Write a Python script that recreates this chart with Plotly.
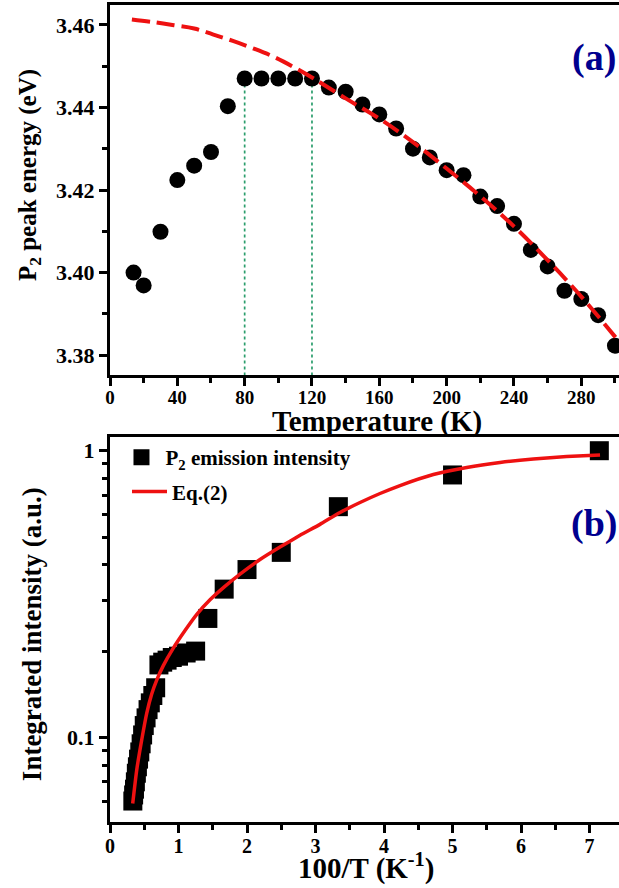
import plotly.graph_objects as go

# ---------------- data: panel (a) ----------------
temp_a = [14, 20, 30, 40, 50, 60, 70, 80, 90, 100, 110, 120, 130, 140, 150,
          160, 170, 180, 190, 200, 210, 220, 230, 240, 250, 260, 270, 280, 290, 300]
energy_a = [3.4000, 3.3969, 3.4099, 3.4224, 3.4259, 3.4292, 3.4403, 3.4470, 3.4470,
            3.4470, 3.4470, 3.4470, 3.4448, 3.4438, 3.4407, 3.4383, 3.4349, 3.4300,
            3.4279, 3.4248, 3.4236, 3.4184, 3.4161, 3.4118, 3.4055, 3.4015, 3.3956,
            3.3936, 3.3897, 3.3823]
fit_temp_a = [13, 25, 38, 50, 61, 73, 85, 97, 109, 121, 140, 160, 180, 200, 220,
              240, 260, 280, 300, 303]
fit_energy_a = [3.4613, 3.4607, 3.4599, 3.4591, 3.4577, 3.4561, 3.4543, 3.4523,
                3.4498, 3.4470, 3.4422, 3.4373, 3.4316, 3.4252, 3.4185, 3.4112,
                3.4030, 3.3942, 3.3845, 3.3830]
plateau_edges = [80, 120]
plateau_energy = 3.4470

# ---------------- data: panel (b) ----------------
temp_b = [14, 20, 30, 40, 50, 60, 70, 80, 90, 100, 110, 120, 130, 140, 150,
          160, 170, 180, 190, 200, 210, 220, 230, 240, 250, 260, 270, 280, 290, 300]
intensity_b = [1.000, 0.823, 0.638, 0.442, 0.385, 0.329, 0.260, 0.200, 0.197, 0.192,
               0.190, 0.186, 0.183, 0.179, 0.149, 0.140, 0.132, 0.125, 0.117, 0.110,
               0.102, 0.095, 0.089, 0.084, 0.079, 0.075, 0.070, 0.066, 0.063, 0.060]
inv_temp_b = [100.0 / t for t in temp_b]
fit_x_b = [0.3314, 0.3898, 0.4628, 0.5358, 0.6088, 0.6818, 0.7781, 0.9241, 1.0949,
           1.2701, 1.4599, 1.6642, 1.8978, 2.1898, 2.4818, 2.7737, 3.0657, 3.3577,
           3.6496, 3.9416, 4.2336, 4.7197, 5.2073, 5.6934, 6.1796, 6.6672, 7.1533]
fit_y_b = [0.0588, 0.0769, 0.0979, 0.1213, 0.1416, 0.1585, 0.1780, 0.2049, 0.2359,
           0.2692, 0.3020, 0.3344, 0.3713, 0.4173, 0.4613, 0.5069, 0.5535, 0.6087,
           0.6595, 0.7091, 0.7560, 0.8259, 0.8737, 0.9095, 0.9355, 0.9537, 0.9660]

x_ticks_a = [0, 40, 80, 120, 160, 200, 240, 280]
y_ticks_a = [3.38, 3.40, 3.42, 3.44, 3.46]
x_ticks_b = [0, 1, 2, 3, 4, 5, 6, 7]
y_ticks_b = [0.1, 1]
y_tick_text_b = ["0.1", "1"]
y_minor_b = [0.06, 0.07, 0.08, 0.09, 0.2, 0.3, 0.4, 0.5, 0.6, 0.7, 0.8, 0.9]

FONT = "Liberation Serif, Times New Roman, serif"
RED = "#ee1111"
NAVY = "#00008f"


def bold(s):
    return "<b>" + s + "</b>"


fig = go.Figure()

# dotted guide lines at plateau edges
for tv in plateau_edges:
    fig.add_shape(type="line", xref="x", yref="y", x0=tv, x1=tv,
                  y0=plateau_energy, y1=3.3752,
                  line=dict(color="#2a9d6c", width=1.7, dash="dot"), layer="below")

fig.add_trace(go.Scatter(x=temp_a, y=energy_a, mode="markers", xaxis="x", yaxis="y",
                         marker=dict(color="black", size=16, symbol="circle"),
                         showlegend=False))
fig.add_trace(go.Scatter(x=fit_temp_a, y=fit_energy_a, mode="lines", xaxis="x", yaxis="y",
                         line=dict(color=RED, width=4, dash="18px,7px", shape="spline"),
                         showlegend=False))

fig.add_trace(go.Scatter(x=inv_temp_b, y=intensity_b, mode="markers", xaxis="x2", yaxis="y2",
                         marker=dict(color="black", size=19, symbol="square"),
                         name=bold("P<sub>2</sub> emission intensity"), legend="legend"))
fig.add_trace(go.Scatter(x=fit_x_b, y=fit_y_b, mode="lines", xaxis="x2", yaxis="y2",
                         line=dict(color=RED, width=3.5, shape="spline", smoothing=0.5),
                         name=bold("Eq.(2)"), legend="legend2"))

axis_common = dict(showline=True, linewidth=3, linecolor="black", ticks="outside",
                   ticklen=8, tickwidth=3, tickcolor="black", showgrid=False,
                   zeroline=False)
minor_common = dict(ticks="outside", ticklen=5, tickwidth=2.5, tickcolor="black",
                    showgrid=False)

fig.update_layout(
    width=619, height=888,
    margin=dict(l=110, r=0, t=5, b=66),
    paper_bgcolor="white", plot_bgcolor="white",
    font=dict(family=FONT, color="black"),
    xaxis=dict(**axis_common, domain=[0, 1], anchor="y", range=[0, 302.4], mirror=True,
               tickvals=x_ticks_a, ticktext=[bold(str(v)) for v in x_ticks_a],
               minor=dict(**minor_common, dtick=20, tick0=0),
               ticklabelstandoff=-5,
               tickfont=dict(size=19, family=FONT)),
    yaxis=dict(**axis_common, domain=[0.5471, 1], anchor="x", range=[3.3752, 3.4648],
               tickvals=y_ticks_a, ticktext=[bold("%.2f" % v) for v in y_ticks_a],
               minor=dict(**minor_common, dtick=0.01, tick0=3.38),
               tickfont=dict(size=22, family=FONT)),
    xaxis2=dict(**axis_common, domain=[0, 1], anchor="y2", range=[0, 7.43], mirror=True,
                tickvals=x_ticks_b, ticktext=[bold(str(v)) for v in x_ticks_b],
                minor=dict(**minor_common, dtick=0.5, tick0=0),
                ticklabelstandoff=-4,
                tickfont=dict(size=20, family=FONT)),
    yaxis2=dict(**axis_common, domain=[0, 0.4712], anchor="x2", type="log",
                range=[-1.295, 0.0477], tickvals=y_ticks_b,
                ticktext=[bold(t) for t in y_tick_text_b],
                minor=dict(**minor_common, tickvals=y_minor_b),
                tickfont=dict(size=22, family=FONT)),
    legend=dict(x=0.0147, y=0.4461, xanchor="left", yanchor="middle", itemwidth=38,
                bgcolor="rgba(0,0,0,0)", borderwidth=0,
                font=dict(size=21, family=FONT)),
    legend2=dict(x=0.0334, y=0.4040, xanchor="left", yanchor="middle", itemwidth=35,
                 bgcolor="rgba(0,0,0,0)", borderwidth=0,
                 font=dict(size=21, family=FONT)),
    annotations=[
        dict(text=bold("Temperature (K)"), x=0.5255, y=0.4900, xref="paper", yref="paper",
             showarrow=False, xanchor="center", yanchor="middle",
             font=dict(size=29, family=FONT)),
        dict(text=bold("100/T (K<sup>-1</sup>)"), x=0.503, y=-0.0539, xref="paper",
             yref="paper", showarrow=False, xanchor="center", yanchor="middle",
             font=dict(size=29, family=FONT)),
        dict(text=bold("P<sub>2</sub> peak energy (eV)"), x=-0.159, y=0.7919,
             xref="paper", yref="paper", showarrow=False, xanchor="center",
             yanchor="middle", textangle=-90, font=dict(size=25, family=FONT)),
        dict(text=bold("Integrated intensity (a.u.)"), x=-0.153, y=0.2301,
             xref="paper", yref="paper", showarrow=False, xanchor="center",
             yanchor="middle", textangle=-90, font=dict(size=27, family=FONT)),
        dict(text=bold("(a)"), x=0.951, y=0.936, xref="paper", yref="paper", showarrow=False,
             xanchor="center", yanchor="middle",
             font=dict(size=38, color=NAVY, family=FONT)),
        dict(text=bold("(b)"), x=0.951, y=0.365, xref="paper", yref="paper", showarrow=False,
             xanchor="center", yanchor="middle",
             font=dict(size=38, color=NAVY, family=FONT)),
    ],
)

fig.write_html("out.html")
